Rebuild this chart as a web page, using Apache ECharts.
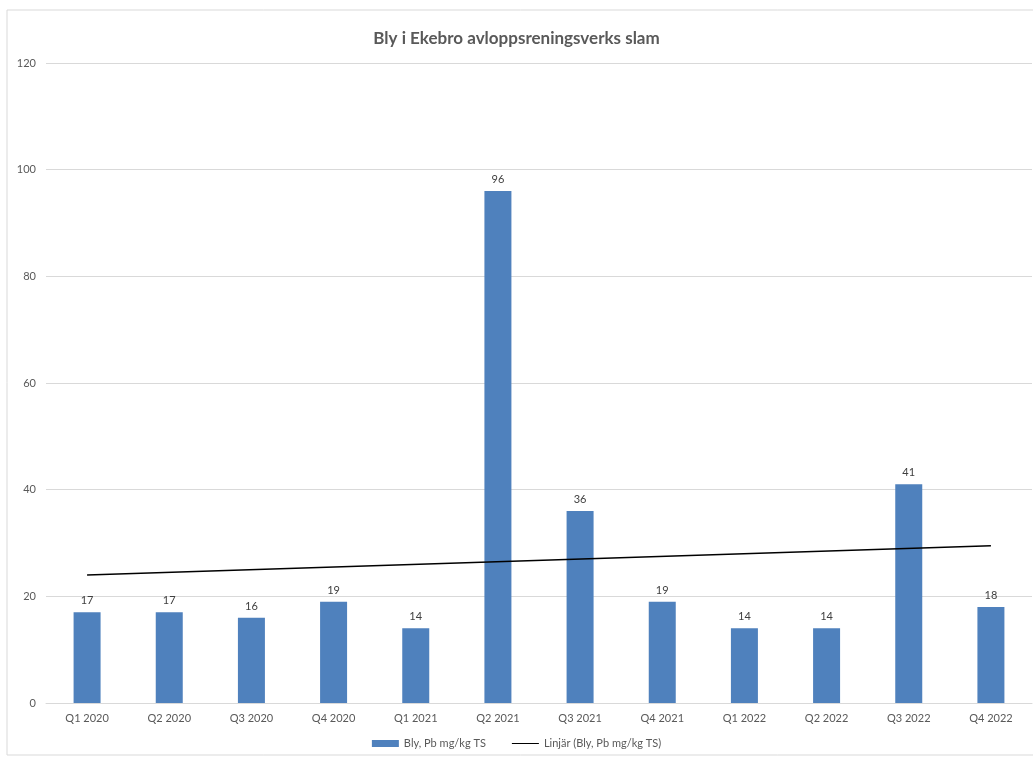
<!DOCTYPE html>
<html>
<head>
<meta charset="utf-8">
<script src="https://cdn.jsdelivr.net/npm/echarts@6/dist/echarts.min.js"></script>
<style>
  html, body { margin: 0; padding: 0; background: #fff; }
  #chart { width: 1033px; height: 758px; }
</style>
</head>
<body>
<div id="chart"></div>
<script>
const quarters = ['Q1 2020', 'Q2 2020', 'Q3 2020', 'Q4 2020', 'Q1 2021', 'Q2 2021',
  'Q3 2021', 'Q4 2021', 'Q1 2022', 'Q2 2022', 'Q3 2022', 'Q4 2022']
const lead = [17, 17, 16, 19, 14, 96, 36, 19, 14, 14, 41, 18]
// trend line end points
const trend = [24, null, null, null, null, null, null, null, null, null, null, 29.5]

const font = 'Lato, "Open Sans", sans-serif'
const chart = echarts.init(document.getElementById('chart'))
chart.setOption({
  animation: false,
  textStyle: { fontFamily: font },
  title: {
    text: 'Bly i Ekebro avloppsreningsverks slam',
    left: 'center',
    top: 25,
    textStyle: { fontSize: 17, fontWeight: 'bold', color: '#595959', fontFamily: font }
  },
  graphic: [{
    type: 'rect',
    shape: { x: 7, y: 10, width: 1040, height: 745 },
    style: { fill: 'none', stroke: '#d9d9d9', lineWidth: 1 },
    silent: true
  }],
  legend: {
    bottom: 4,
    left: 'center',
    itemGap: 26,
    itemWidth: 27,
    itemHeight: 7,
    textStyle: { fontSize: 11, color: '#595959' },
    data: [
      { name: 'Bly, Pb mg/kg TS', icon: 'rect' },
      { name: 'Linjär (Bly, Pb mg/kg TS)', icon: 'path://M0,0 L27,0 L27,1 L0,1 Z' }
    ]
  },
  grid: { left: 46, right: 1, top: 63, bottom: 55, containLabel: false },
  xAxis: {
    type: 'category',
    data: quarters,
    axisTick: { show: false },
    axisLine: { lineStyle: { color: '#d9d9d9' } },
    axisLabel: { color: '#595959', fontSize: 11, margin: 10 }
  },
  yAxis: {
    type: 'value',
    min: 0,
    max: 120,
    interval: 20,
    axisLine: { show: false },
    axisTick: { show: false },
    splitLine: { lineStyle: { color: '#d9d9d9' } },
    axisLabel: { color: '#595959', fontSize: 11, margin: 10 }
  },
  series: [
    {
      name: 'Bly, Pb mg/kg TS',
      type: 'bar',
      data: lead,
      barWidth: 27,
      itemStyle: { color: '#4f81bd' },
      label: { show: true, position: 'top', color: '#404040', fontSize: 11, distance: 6 }
    },
    {
      name: 'Linjär (Bly, Pb mg/kg TS)',
      type: 'line',
      data: trend,
      connectNulls: true,
      symbol: 'none',
      lineStyle: { color: '#000', width: 1.5 },
      itemStyle: { color: '#000' }
    }
  ]
})
</script>
</body>
</html>
